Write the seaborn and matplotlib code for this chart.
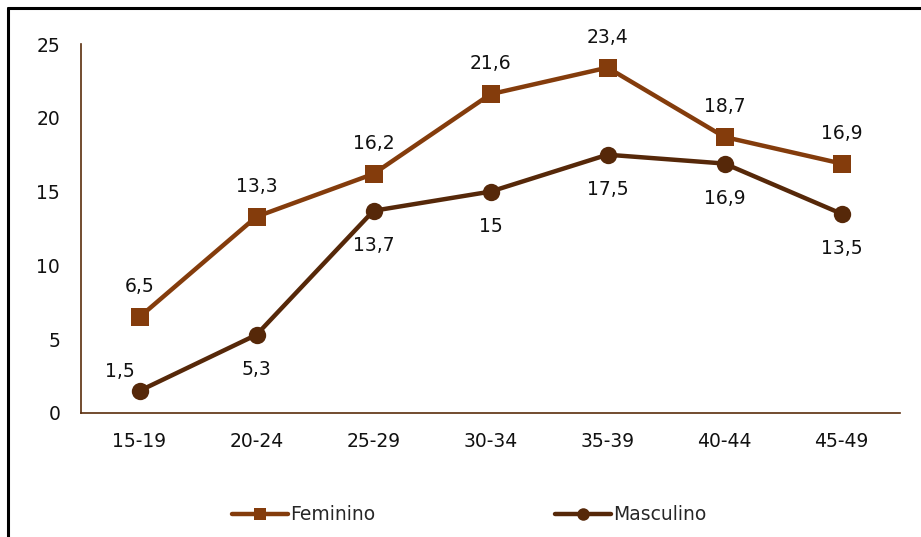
import numpy as np
import pandas as pd
import matplotlib
matplotlib.use('Agg')
import matplotlib.pyplot as plt
from matplotlib.lines import Line2D
import seaborn as sns

age_groups = ['15-19', '20-24', '25-29', '30-34', '35-39', '40-44', '45-49']
feminino = [6.5, 13.3, 16.2, 21.6, 23.4, 18.7, 16.9]
masculino = [1.5, 5.3, 13.7, 15, 17.5, 16.9, 13.5]

fem_color = '#843C0C'
masc_color = '#562809'
axis_color = '#5A2D0C'

sns.set_theme(style='white')
plt.rcParams['font.family'] = ['DejaVu Sans']

fig = plt.figure(figsize=(9.21, 5.37), dpi=100)
ax = fig.add_axes([81 / 921, 1 - 413 / 537, (900 - 81) / 921, (413 - 44) / 537])

df = pd.DataFrame({'grupo': age_groups, 'Feminino': feminino, 'Masculino': masculino})

sns.lineplot(data=df, x='grupo', y='Feminino', ax=ax, color=fem_color, lw=3.2,
             marker='s', markersize=13, markeredgewidth=0, sort=False)
sns.lineplot(data=df, x='grupo', y='Masculino', ax=ax, color=masc_color, lw=3.2,
             marker='o', markersize=12.5, markeredgewidth=0, sort=False)

def fmt(v):
    return f'{v:g}'.replace('.', ',')

fs = 13.5

for i, v in enumerate(feminino):
    ax.annotate(fmt(v), (i, v), xytext=(0, 22), textcoords='offset points',
                ha='center', va='center', fontsize=fs, color='#111111')

for i, v in enumerate(masculino):
    off = (0, -25)
    if i == 0:
        off = (-14, 14)
    ax.annotate(fmt(v), (i, v), xytext=off, textcoords='offset points',
                ha='center', va='center', fontsize=fs, color='#111111')

ax.set_xlim(-0.5, 6.5)
ax.set_ylim(0, 25)
ax.set_yticks([0, 5, 10, 15, 20, 25])
ax.set_xlabel('')
ax.set_ylabel('')
ax.tick_params(axis='both', length=0, labelsize=fs, colors='#111111')
ax.tick_params(axis='y', pad=15)
ax.tick_params(axis='x', pad=14)
sns.despine(ax=ax)
for s in ['left', 'bottom']:
    ax.spines[s].set_color(axis_color)
    ax.spines[s].set_linewidth(1.2)

handles = [
    Line2D([], [], color=fem_color, lw=3.2, marker='s', markersize=9, markeredgewidth=0),
    Line2D([], [], color=masc_color, lw=3.2, marker='o', markersize=9, markeredgewidth=0),
]
fig.legend(handles, ['Feminino', 'Masculino'], loc='center', bbox_to_anchor=(469 / 921, 1 - 515 / 537),
           ncol=2, frameon=False, fontsize=fs, columnspacing=9.6, handlelength=3.0,
           handletextpad=0.1)

# border of the chart area
fig.add_artist(Line2D([8 / 921, 8 / 921], [0, 1 - 8 / 537], color='black', lw=2.2,
                      transform=fig.transFigure))
fig.add_artist(Line2D([8 / 921, 1], [1 - 8 / 537, 1 - 8 / 537], color='black', lw=2.2,
                      transform=fig.transFigure))

fig.savefig('out.png', dpi=100)
